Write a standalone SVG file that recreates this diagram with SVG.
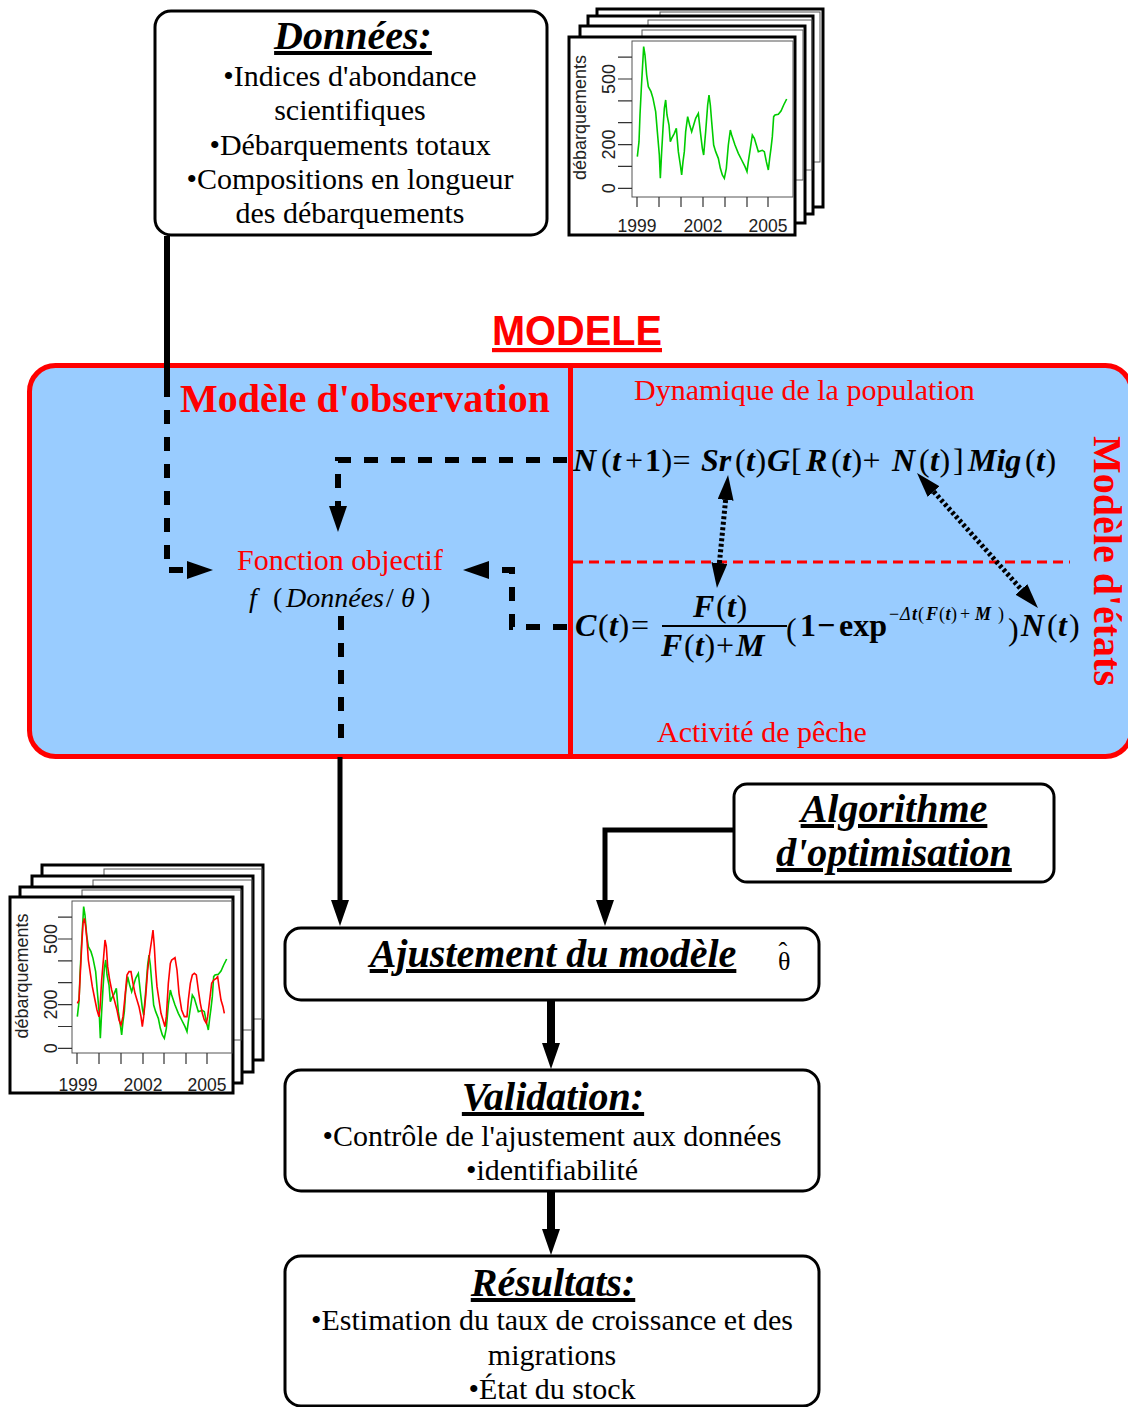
<svg xmlns="http://www.w3.org/2000/svg" xmlns:xlink="http://www.w3.org/1999/xlink" width="1128" height="1407" viewBox="0 0 1128 1407">
<style>
text { font-family: "Liberation Serif", "Times New Roman", serif; }
.box { fill:#fff; stroke:#000; stroke-width:3; }
.body { font-size:30px; text-anchor:middle; fill:#000; }
.ttl { font-size:40px; font-weight:bold; font-style:italic; text-decoration:underline; text-anchor:middle; fill:#000; }
.red { fill:#f00; }
.bi { font-weight:bold; font-style:italic; }
.it { font-style:italic; }
.b { font-weight:bold; }
.eq { font-size:32px; fill:#000; }
.sup { font-size:18px; fill:#000; }
.frame { fill:#fff; stroke:#000; stroke-width:3; }
.plot { fill:none; stroke:#555; stroke-width:1; }
.axis { stroke:#333; stroke-width:1.2; fill:none; }
.ax { font-family:"Liberation Sans", Arial, sans-serif; font-size:18px; fill:#222; }
.axx { font-family:"Liberation Sans", Arial, sans-serif; font-size:17.5px; fill:#222; text-anchor:middle; }
.conn { fill:none; stroke:#000; }
.dash { stroke-width:6; stroke-dasharray:14 13; }
.dot { stroke-width:5; stroke-dasharray:3 2.5; }
.gser { fill:none; stroke:#00cc00; stroke-width:1.6; }
.rser { fill:none; stroke:#ff0000; stroke-width:1.6; }
</style>
<defs>
<marker id="ah" markerUnits="userSpaceOnUse" markerWidth="26" markerHeight="20" refX="0" refY="10" orient="auto"><path d="M0,1 L26,10 L0,19 z" fill="#000"/></marker>
<marker id="ahs" markerUnits="userSpaceOnUse" markerWidth="25" markerHeight="16" refX="0" refY="8" orient="auto-start-reverse"><path d="M0,0 L25,8 L0,16 z" fill="#000"/></marker>
<polyline id="green" points="217,455 222,410 225,330 229,250 236,125 240,150 245,210 250,245 258,260 264,280 272,320 277,380 283,450 286,520 290,440 294,370 298,310 302,285 306,330 312,360 316,410 320,400 328,385 334,370 340,440 346,480 350,510 354,470 358,440 362,380 368,335 374,360 380,380 386,360 392,340 400,325 406,380 412,430 416,450 422,380 428,300 432,270 436,300 440,350 446,420 452,440 460,460 466,490 472,510 478,520 484,490 490,420 496,375 500,390 510,420 520,445 530,465 540,485 546,500 550,470 556,430 562,390 568,400 574,420 580,440 586,438 592,436 598,440 604,470 610,495 614,460 618,430 622,395 626,335 630,330 640,328 648,318 656,300 665,282" class="gser" vector-effect="non-scaling-stroke"/>
</defs>

<!-- Top chart stack -->
<g id="chart-top">
<rect class="frame" x="597" y="9" width="226" height="198"/>
<rect class="plot" x="660" y="12" width="160" height="150"/>
<rect class="frame" x="588" y="16" width="225" height="198"/>
<rect class="plot" x="648" y="20" width="164" height="150"/>
<rect class="frame" x="580" y="26" width="225" height="197"/>
<rect class="plot" x="642" y="30" width="161" height="150"/>
<rect class="frame" x="569" y="37" width="226" height="198"/>
<rect class="plot" x="632" y="41" width="161" height="156"/>
<path class="axis" d="M618,188.3H632 M618,166.4H632 M618,144.6H632 M618,122.7H632 M618,100.9H632 M618,79H632 M618,57.2H632 M637,197V207 M659,197V207 M681,197V207 M703,197V207 M725,197V207 M747,197V207 M768,197V207"/>
<text class="ax" transform="translate(586,117.5) rotate(-90)" text-anchor="middle">débarquements</text>
<text class="ax" transform="translate(615,188.3) rotate(-90)" text-anchor="middle">0</text>
<text class="ax" transform="translate(615,144.6) rotate(-90)" text-anchor="middle">200</text>
<text class="ax" transform="translate(615,79) rotate(-90)" text-anchor="middle">500</text>
<text class="axx" x="637" y="232">1999</text>
<text class="axx" x="703" y="232">2002</text>
<text class="axx" x="768" y="232">2005</text>
<use xlink:href="#green" transform="translate(565,5) scale(0.33333)"/>
</g>

<!-- Bottom chart stack -->
<g id="chart-bottom">
<rect class="frame" x="42" y="865" width="221" height="195"/>
<rect class="plot" x="104" y="869" width="158" height="150"/>
<rect class="frame" x="32" y="876" width="221" height="196"/>
<rect class="plot" x="93" y="880" width="159" height="150"/>
<rect class="frame" x="20" y="887" width="222" height="196"/>
<rect class="plot" x="82" y="890" width="159" height="150"/>
<rect class="frame" x="10" y="897" width="223" height="196"/>
<rect class="plot" x="72" y="901" width="160" height="152"/>
<path class="axis" d="M58,1048.3H72 M58,1026.5H72 M58,1004.6H72 M58,982.7H72 M58,960.9H72 M58,939H72 M58,917.1H72 M77,1053V1064 M99,1053V1064 M121,1053V1064 M143,1053V1064 M164,1053V1064 M186,1053V1064 M207,1053V1064"/>
<text class="ax" transform="translate(28,976) rotate(-90)" text-anchor="middle">débarquements</text>
<text class="ax" transform="translate(57,1048.3) rotate(-90)" text-anchor="middle">0</text>
<text class="ax" transform="translate(57,1004.6) rotate(-90)" text-anchor="middle">200</text>
<text class="ax" transform="translate(57,939) rotate(-90)" text-anchor="middle">500</text>
<text class="axx" x="78" y="1091">1999</text>
<text class="axx" x="143" y="1091">2002</text>
<text class="axx" x="207" y="1091">2005</text>
<use xlink:href="#green" transform="translate(5,865) scale(0.33333)"/>
<polyline class="rser" transform="translate(5,860) scale(0.33333)" vector-effect="non-scaling-stroke" points="217,430 222,420 226,340 230,260 234,190 238,175 242,200 246,240 250,300 256,340 262,380 270,420 276,450 282,470 285,445 290,360 296,290 300,240 304,260 308,320 314,360 320,390 328,420 336,450 342,480 348,495 354,470 360,410 366,345 372,335 378,335 384,370 390,400 396,420 402,440 408,470 412,500 416,470 422,410 428,330 434,280 440,240 444,210 448,260 452,330 456,380 462,420 468,460 474,480 480,500 484,470 490,370 496,310 500,300 510,293 516,330 522,400 530,450 538,470 546,470 550,420 556,370 562,345 568,340 574,345 580,390 586,430 592,460 598,480 604,490 608,470 614,420 620,370 626,360 634,355 638,350 642,380 648,420 654,440 658,460"/>
</g>

<!-- Données -->
<g id="donnees">
<rect class="box" x="155" y="11" width="392" height="224" rx="16"/>
<text class="ttl" x="353" y="49" font-size="41">Données:</text>
<text class="body" x="350" y="86">•Indices d'abondance</text>
<text class="body" x="350" y="120">scientifiques</text>
<text class="body" x="350" y="155">•Débarquements totaux</text>
<text class="body" x="350" y="189">•Compositions en longueur</text>
<text class="body" x="350" y="223">des débarquements</text>
</g>

<!-- MODELE -->
<g id="modele">
<text x="577" y="345" font-size="42" font-weight="bold" fill="#f00" text-anchor="middle" text-decoration="underline" textLength="170" lengthAdjust="spacingAndGlyphs" style="font-family:'Liberation Sans',Arial,sans-serif">MODELE</text>
<rect x="29.5" y="365.5" width="1102" height="391" rx="26" fill="#99ccff" stroke="#f00" stroke-width="5"/>
<line x1="570.5" y1="366" x2="570.5" y2="757" stroke="#f00" stroke-width="5"/>
<line x1="573" y1="562" x2="1070" y2="562" stroke="#f00" stroke-width="3" stroke-dasharray="10 6"/>
</g>

<g id="obs">
<text x="180" y="412" class="red b" font-size="40">Modèle d'observation</text>
<text x="340" y="570" class="red" font-size="30" text-anchor="middle">Fonction objectif</text>
<text y="607" font-size="28" fill="#000"><tspan x="249" class="it">f</tspan><tspan x="273">(</tspan><tspan x="286" class="it">Données</tspan><tspan x="386">/</tspan><tspan x="401" class="it">θ</tspan><tspan x="421">)</tspan></text>
</g>

<g id="etats">
<text x="634" y="400" class="red" font-size="30">Dynamique de la population</text>
<text x="657" y="742" class="red" font-size="30">Activité de pêche</text>
<text class="red b" font-size="40" text-anchor="middle" transform="translate(1094,561) rotate(90)">Modèle d'états</text>
</g>

<g id="eq-dynamique">
<text y="471" class="eq"><tspan x="573" class="bi">N</tspan><tspan x="601">(</tspan><tspan x="612" class="bi">t</tspan><tspan x="625">+</tspan><tspan x="645" class="b">1</tspan><tspan x="661.5">)</tspan><tspan x="672.5">=</tspan><tspan x="701" class="bi">Sr</tspan><tspan x="735">(</tspan><tspan x="746" class="bi">t</tspan><tspan x="755.5">)</tspan><tspan x="767" class="bi">G</tspan><tspan x="791">[</tspan><tspan x="806" class="bi">R</tspan><tspan x="831">(</tspan><tspan x="842" class="bi">t</tspan><tspan x="851.5">)</tspan><tspan x="862.5">+</tspan><tspan x="892" class="bi">N</tspan><tspan x="919">(</tspan><tspan x="930" class="bi">t</tspan><tspan x="939.5">)</tspan><tspan x="953">]</tspan><tspan x="968" class="bi">Mig</tspan><tspan x="1025">(</tspan><tspan x="1036" class="bi">t</tspan><tspan x="1045.5">)</tspan></text>
</g>

<g id="eq-capture">
<text y="636" class="eq"><tspan x="575" class="bi">C</tspan><tspan x="598">(</tspan><tspan x="609" class="bi">t</tspan><tspan x="618.5">)</tspan><tspan x="631">=</tspan></text>
<text y="617" class="eq"><tspan x="693" class="bi">F</tspan><tspan x="716">(</tspan><tspan x="727" class="bi">t</tspan><tspan x="736.5">)</tspan></text>
<line x1="662" y1="626" x2="787" y2="626" stroke="#000" stroke-width="2"/>
<text y="656" class="eq"><tspan x="661" class="bi">F</tspan><tspan x="684">(</tspan><tspan x="695" class="bi">t</tspan><tspan x="704.5">)</tspan><tspan x="716">+</tspan><tspan x="736" class="bi">M</tspan></text>
<text y="640" class="eq" font-size="34"><tspan x="786">(</tspan><tspan x="1008">)</tspan></text>
<text y="636" class="eq b"><tspan x="800">1</tspan><tspan x="817">−</tspan><tspan x="839">exp</tspan></text>
<text y="620" class="sup"><tspan x="889">−</tspan><tspan x="900" class="it">Δ</tspan><tspan x="912" class="bi">t</tspan><tspan x="918">(</tspan><tspan x="926" class="bi">F</tspan><tspan x="939">(</tspan><tspan x="945.5" class="bi">t</tspan><tspan x="951">)</tspan><tspan x="960">+</tspan><tspan x="975" class="bi">M</tspan><tspan x="998">)</tspan></text>
<text y="636" class="eq"><tspan x="1021" class="bi">N</tspan><tspan x="1047">(</tspan><tspan x="1058" class="bi">t</tspan><tspan x="1069">)</tspan></text>
</g>

<g id="algorithme">
<rect class="box" x="734" y="784" width="320" height="98" rx="13"/>
<text class="ttl" x="894" y="822">Algorithme</text>
<text class="ttl" x="894" y="866">d'optimisation</text>
</g>

<g id="ajustement">
<rect class="box" x="285" y="928" width="534" height="72" rx="16"/>
<text class="ttl" x="553" y="967">Ajustement du modèle</text>
<text x="778" y="970" font-size="26" fill="#000"><tspan>θ</tspan><tspan dx="-12" dy="-10">ˆ</tspan></text>
</g>

<g id="validation">
<rect class="box" x="285" y="1070" width="534" height="121" rx="16"/>
<text class="ttl" x="553" y="1110">Validation:</text>
<text class="body" x="552" y="1146">•Contrôle de l'ajustement aux données</text>
<text class="body" x="552" y="1180">•identifiabilité</text>
</g>

<g id="resultats">
<rect class="box" x="285" y="1256" width="534" height="150" rx="16"/>
<text class="ttl" x="553" y="1296">Résultats:</text>
<text class="body" x="552" y="1330">•Estimation du taux de croissance et des</text>
<text class="body" x="552" y="1365">migrations</text>
<text class="body" x="552" y="1399">•État du stock</text>
</g>

<g id="connectors">
<path class="conn" d="M167,236 V383" stroke-width="6"/>
<path class="conn dash" d="M167,383 V570 H187" marker-end="url(#ah)"/>
<path class="conn dash" d="M567,460 H338 V506" marker-end="url(#ah)"/>
<path class="conn dash" d="M567,627 H512 V570 H489" marker-end="url(#ah)"/>
<path class="conn dash" d="M341,616 V742"/>
<path class="conn" d="M340,757 V900" stroke-width="5" marker-end="url(#ah)"/>
<path class="conn" d="M734,830 H605 V900" stroke-width="5" marker-end="url(#ah)"/>
<path class="conn" d="M551,1001 V1043" stroke-width="8" marker-end="url(#ah)"/>
<path class="conn" d="M551,1192 V1229" stroke-width="8" marker-end="url(#ah)"/>
<path class="conn dot" d="M725.6,499.9 L719.4,563.1" marker-start="url(#ahs)" marker-end="url(#ahs)"/>
<path class="conn dot" d="M933.7,491.6 L1021.3,589.4" marker-start="url(#ahs)" marker-end="url(#ahs)"/>
</g>
</svg>
